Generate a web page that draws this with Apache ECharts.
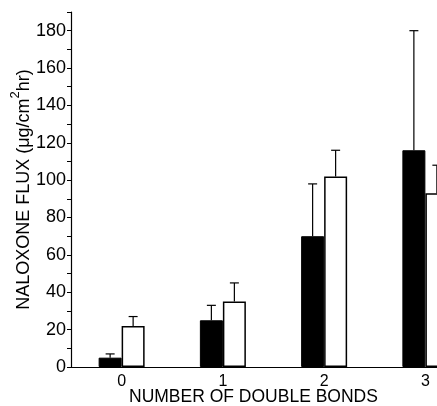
<!DOCTYPE html>
<html><head><meta charset="utf-8">
<script src="https://cdn.jsdelivr.net/npm/echarts@6/dist/echarts.min.js"></script>
<style>html,body{margin:0;padding:0;background:#fff}#c{width:437px;height:406px}</style>
</head><body><div id="c"></div>
<script>
const categories = ['0', '1', '2', '3'];
const blackValues = [5, 25, 70, 116];
const blackUpper = [7, 33, 98, 180];
const whiteValues = [22, 35, 102, 93];
const whiteUpper = [27, 45, 116, 108];
const yTicks = [0, 20, 40, 60, 80, 100, 120, 140, 160, 180];

const FONT = '"Liberation Sans", Arial, sans-serif';
const BW = 23;
const chart = echarts.init(document.getElementById('c'), null, {renderer: 'canvas'});

function errSeries(upper, values, dx) {
  return {
    type: 'custom',
    z: 5,
    data: values.map((v, i) => [i, v, upper[i]]),
    renderItem: function (params, api) {
      const p0 = api.coord([api.value(0), api.value(1)]);
      const p1 = api.coord([api.value(0), api.value(2)]);
      const x = p0[0] + dx;
      const cap = 4.5;
      return {
        type: 'group',
        children: [
          {type: 'line', shape: {x1: x, y1: p0[1], x2: x, y2: p1[1]}, style: {stroke: '#000', lineWidth: 1.2}},
          {type: 'line', shape: {x1: x - cap, y1: p1[1], x2: x + cap, y2: p1[1]}, style: {stroke: '#000', lineWidth: 1.2}}
        ]
      };
    }
  };
}

chart.setOption({
  animation: false,
  backgroundColor: '#fff',
  grid: {left: 71, width: 405, top: 12, bottom: 39, containLabel: false, outerBoundsMode: 'none'},
  xAxis: {
    type: 'category',
    data: categories,
    axisLine: {lineStyle: {color: '#000', width: 1.2}},
    axisTick: {show: false},
    axisLabel: {color: '#000', fontSize: 16, fontFamily: FONT, margin: 7}
  },
  yAxis: {
    type: 'value',
    min: 0, max: 190, interval: 10,
    axisLine: {show: true, lineStyle: {color: '#000', width: 1.2}},
    axisTick: {show: true, length: 4, lineStyle: {color: '#000', width: 1}},
    splitLine: {show: false},
    axisLabel: {
      color: '#000', fontSize: 18, fontFamily: FONT, margin: 5,
      formatter: v => (yTicks.indexOf(v) >= 0 ? String(v) : '')
    },
    name: '{m|NALOXONE FLUX (μg/cm}{s|2}{m|hr)}',
    nameLocation: 'middle',
    nameGap: 38,
    nameMoveOverlap: false,
    nameTextStyle: {
      color: '#000', fontSize: 18, fontFamily: FONT,
      rich: {
        m: {fontSize: 18, fontFamily: FONT, color: '#000', lineHeight: 24, verticalAlign: 'bottom'},
        s: {fontSize: 13, fontFamily: FONT, color: '#000', lineHeight: 24, verticalAlign: 'top'}
      }
    }
  },
  graphic: [{
    type: 'text', left: 129, top: 388,
    style: {text: 'NUMBER OF DOUBLE BONDS', fill: '#000', font: '17.5px ' + FONT}
  }],
  series: [
    {type: 'bar', data: blackValues, barWidth: BW, barGap: '0%',
     itemStyle: {color: '#000', borderColor: '#000', borderWidth: 1}},
    {type: 'bar', data: whiteValues, barWidth: BW, barGap: '0%',
     itemStyle: {color: '#fff', borderColor: '#000', borderWidth: 1.5}},
    errSeries(blackUpper, blackValues, -BW / 2),
    errSeries(whiteUpper, whiteValues, BW / 2)
  ]
});
</script></body></html>
